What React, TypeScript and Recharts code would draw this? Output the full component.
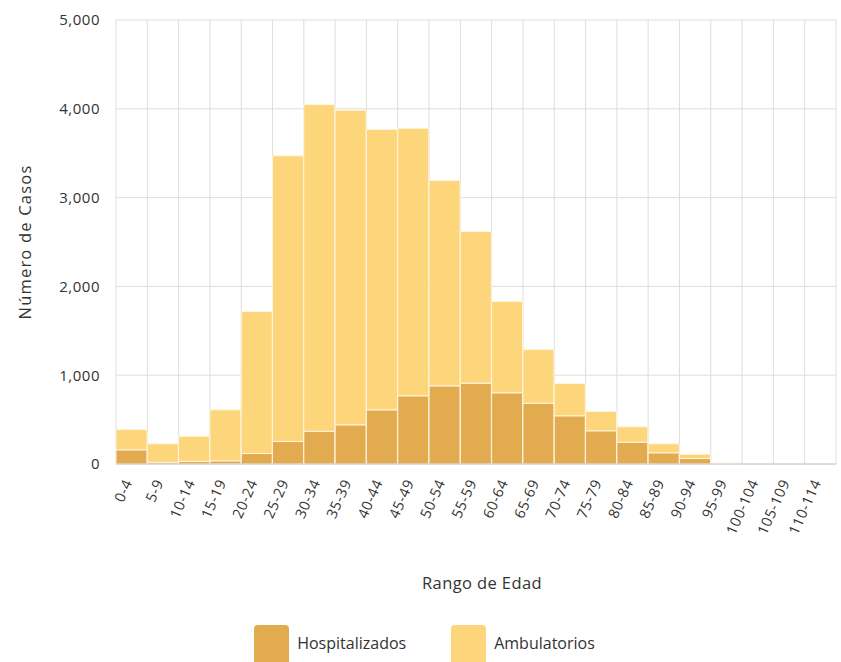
import React from "react";
import { BarChart, Bar, XAxis, YAxis, CartesianGrid, Label } from "recharts";

const categories = [
  "0-4", "5-9", "10-14", "15-19", "20-24", "25-29", "30-34", "35-39", "40-44", "45-49",
  "50-54", "55-59", "60-64", "65-69", "70-74", "75-79", "80-84", "85-89", "90-94", "95-99",
  "100-104", "105-109", "110-114",
];
const hospitalizados = [
  160, 20, 30, 36, 118, 253, 369, 441, 610, 768,
  880, 910, 802, 685, 543, 374, 246, 126, 62, 5,
  0, 0, 0,
];
const ambulatorios = [
  227, 207, 282, 574, 1599, 3217, 3679, 3543, 3157, 3013,
  2312, 1708, 1028, 604, 363, 217, 173, 101, 48, 4,
  0, 0, 0,
];
const yTicks = [0, 1000, 2000, 3000, 4000, 5000];
const seriesNames = ["Hospitalizados", "Ambulatorios"];

const DARK = "#e2ab50";
const LIGHT = "#fdd57b";
const FONT = "'Open Sans', sans-serif";

const data = categories.map((c, i) => ({
  rango: c,
  Hospitalizados: hospitalizados[i],
  Ambulatorios: ambulatorios[i],
}));

const XTick = (props: any) => {
  const { x, y, payload } = props;
  return (
    <g transform={`translate(${x - 4},${y + 8})`}>
      <text
        transform="rotate(-66)"
        textAnchor="end"
        dominantBaseline="central"
        fontSize={14.5}
        fontFamily={FONT}
        letterSpacing={0.6}
        fill="#333"
      >
        {payload.value}
      </text>
    </g>
  );
};

const XTitle = (props: any) => {
  const { viewBox } = props;
  const cx = viewBox.x + viewBox.width / 2 + 6;
  const yb = viewBox.y + viewBox.height - 3;
  return (
    <text
      x={cx}
      y={yb}
      textAnchor="middle"
      fontSize={16.5}
      fontFamily={FONT}
      fill="#333"
      letterSpacing={0.4}
    >
      Rango de Edad
    </text>
  );
};

export default function App() {
  const n = categories.length;
  const colors = [DARK, LIGHT];
  return (
    <div style={{ position: "absolute", left: 0, top: 0, width: 841, height: 662, background: "#fff", overflow: "hidden" }}>
      <BarChart
        width={841}
        height={662}
        data={data}
        margin={{ top: 20, right: 5, left: 0, bottom: 70 }}
        barCategoryGap={0}
      >
        <CartesianGrid
          stroke="#dedede"
          verticalCoordinatesGenerator={(p: any) => {
            const off = p.offset;
            return Array.from({ length: n + 1 }, (_, i) => off.left + (i * off.width) / n);
          }}
        />
        <XAxis
          dataKey="rango"
          interval={0}
          height={128}
          tick={<XTick />}
          tickLine={false}
          axisLine={{ stroke: "#c8c8c8" }}
        >
          <Label content={<XTitle />} />
        </XAxis>
        <YAxis
          width={116}
          domain={[0, 5000]}
          ticks={yTicks}
          tickFormatter={(v: number) => v.toLocaleString("en-US")}
          tick={{ fontSize: 15, fontFamily: FONT, fill: "#333", letterSpacing: 0.5 }}
          tickLine={false}
          axisLine={false}
          tickMargin={10}
        >
          <Label
            value="Número de Casos"
            angle={-90}
            position="insideLeft"
            offset={25}
            style={{ textAnchor: "middle", fontSize: 16.5, fontFamily: FONT, fill: "#333", letterSpacing: 1.2 }}
          />
        </YAxis>
        <Bar
          dataKey="Hospitalizados"
          stackId="a"
          fill={DARK}
          stroke="#fff4de"
          strokeWidth={1}
          isAnimationActive={false}
        />
        <Bar
          dataKey="Ambulatorios"
          stackId="a"
          fill={LIGHT}
          stroke="#fff4de"
          strokeWidth={1}
          isAnimationActive={false}
        />
      </BarChart>
      <div
        style={{
          position: "absolute",
          top: 625,
          left: 0,
          width: 841,
          display: "flex",
          justifyContent: "center",
          gap: 45,
          fontFamily: FONT,
          paddingLeft: 8,
          boxSizing: "border-box",
        }}
      >
        {seriesNames.map((name, i) => (
          <div key={name} style={{ display: "flex", alignItems: "center" }}>
            <div
              style={{
                width: 35,
                height: 40,
                background: colors[i],
                borderRadius: 4,
                marginRight: 8,
              }}
            />
            <span style={{ fontSize: 16, color: "#333", marginTop: -4 }}>{name}</span>
          </div>
        ))}
      </div>
    </div>
  );
}
